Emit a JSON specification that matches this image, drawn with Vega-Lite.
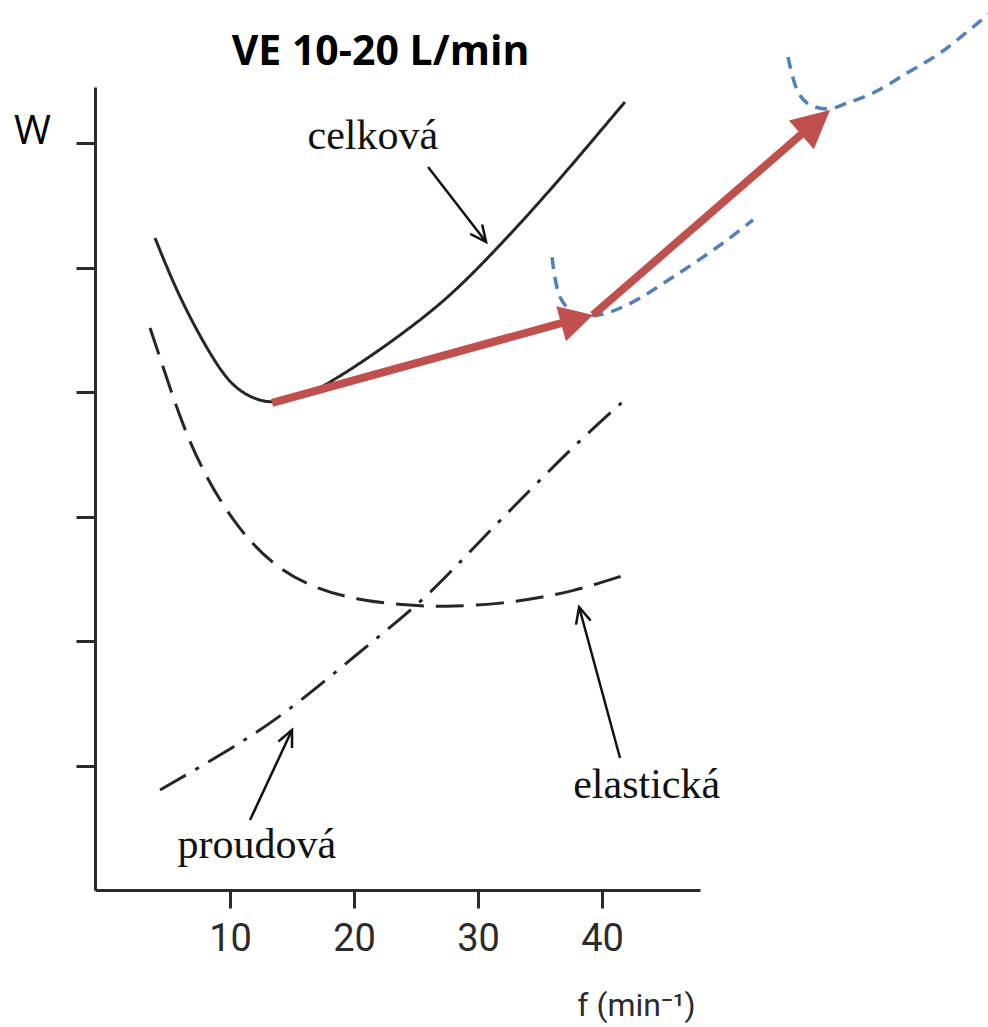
{
  "$schema": "https://vega.github.io/schema/vega-lite/v6.json",
  "width": 605,
  "height": 803,
  "autosize": {"type": "none"},
  "padding": {"left": 95, "top": 87, "right": 288, "bottom": 137},
  "background": "white",
  "view": {"stroke": null},
  "title": {"text": "VE 10-20 L/min", "font": "Open Sans", "fontSize": 41, "fontWeight": "bold", "color": "#000000", "anchor": "middle", "frame": "group", "dx": -17, "offset": 23, "dy": 123, "baseline": "alphabetic"},
  "datasets": {
    "curves": [
      {"series": "celková", "i": 1, "x": 3.95, "y": 5.237},
      {"series": "celková", "i": 2, "x": 5.97, "y": 4.739},
      {"series": "celková", "i": 3, "x": 8.95, "y": 4.201},
      {"series": "celková", "i": 4, "x": 10.56, "y": 4.016},
      {"series": "celková", "i": 5, "x": 12.18, "y": 3.936},
      {"series": "celková", "i": 6, "x": 13.39, "y": 3.912},
      {"series": "celková", "i": 7, "x": 15.65, "y": 3.952},
      {"series": "celková", "i": 8, "x": 18.06, "y": 4.072},
      {"series": "celková", "i": 9, "x": 22.1, "y": 4.337},
      {"series": "celková", "i": 10, "x": 26.13, "y": 4.635},
      {"series": "celková", "i": 11, "x": 29.11, "y": 4.9},
      {"series": "celková", "i": 12, "x": 33.15, "y": 5.325},
      {"series": "celková", "i": 13, "x": 35.81, "y": 5.622},
      {"series": "celková", "i": 14, "x": 38.47, "y": 5.93},
      {"series": "celková", "i": 15, "x": 41.85, "y": 6.33},
      {"series": "elastická", "i": 1, "x": 3.55, "y": 4.514},
      {"series": "elastická", "i": 2, "x": 4.6, "y": 4.201},
      {"series": "elastická", "i": 3, "x": 6.21, "y": 3.719},
      {"series": "elastická", "i": 4, "x": 8.15, "y": 3.293},
      {"series": "elastická", "i": 5, "x": 10.56, "y": 2.916},
      {"series": "elastická", "i": 6, "x": 13.23, "y": 2.627},
      {"series": "elastická", "i": 7, "x": 16.45, "y": 2.434},
      {"series": "elastická", "i": 8, "x": 20.24, "y": 2.329},
      {"series": "elastická", "i": 9, "x": 23.95, "y": 2.289},
      {"series": "elastická", "i": 10, "x": 27.18, "y": 2.273},
      {"series": "elastická", "i": 11, "x": 31.77, "y": 2.297},
      {"series": "elastická", "i": 12, "x": 35.24, "y": 2.353},
      {"series": "elastická", "i": 13, "x": 37.66, "y": 2.402},
      {"series": "elastická", "i": 14, "x": 39.84, "y": 2.466},
      {"series": "elastická", "i": 15, "x": 41.61, "y": 2.522},
      {"series": "proudová", "i": 1, "x": 4.35, "y": 0.803},
      {"series": "proudová", "i": 2, "x": 10.24, "y": 1.141},
      {"series": "proudová", "i": 3, "x": 14.27, "y": 1.406},
      {"series": "proudová", "i": 4, "x": 18.23, "y": 1.727},
      {"series": "proudová", "i": 5, "x": 21.94, "y": 2.032},
      {"series": "proudová", "i": 6, "x": 25.89, "y": 2.353},
      {"series": "proudová", "i": 7, "x": 29.76, "y": 2.763},
      {"series": "proudová", "i": 8, "x": 34.19, "y": 3.213},
      {"series": "proudová", "i": 9, "x": 38.23, "y": 3.615},
      {"series": "proudová", "i": 10, "x": 42.1, "y": 3.96}
    ],
    "blue": [
      {"curve": "a", "i": 1, "x": 35.97, "y": 5.084},
      {"curve": "a", "i": 2, "x": 36.61, "y": 4.763},
      {"curve": "a", "i": 3, "x": 37.66, "y": 4.643},
      {"curve": "a", "i": 4, "x": 39.6, "y": 4.618},
      {"curve": "a", "i": 5, "x": 42.02, "y": 4.699},
      {"curve": "a", "i": 6, "x": 45.73, "y": 4.924},
      {"curve": "a", "i": 7, "x": 49.76, "y": 5.197},
      {"curve": "a", "i": 8, "x": 52.18, "y": 5.382},
      {"curve": "b", "i": 1, "x": 55.0, "y": 6.691},
      {"curve": "b", "i": 2, "x": 55.73, "y": 6.426},
      {"curve": "b", "i": 3, "x": 56.53, "y": 6.321},
      {"curve": "b", "i": 4, "x": 58.15, "y": 6.273},
      {"curve": "b", "i": 5, "x": 59.76, "y": 6.321},
      {"curve": "b", "i": 6, "x": 61.85, "y": 6.402},
      {"curve": "b", "i": 7, "x": 64.6, "y": 6.562},
      {"curve": "b", "i": 8, "x": 67.26, "y": 6.723},
      {"curve": "b", "i": 9, "x": 69.92, "y": 6.932},
      {"curve": "b", "i": 10, "x": 71.29, "y": 7.044}
    ],
    "redshafts": [
      {"id": "r1", "x": 13.39, "y": 3.912, "x2": 37.3, "y2": 4.57},
      {"id": "r2", "x": 39.27, "y": 4.618, "x2": 56.1, "y2": 6.072}
    ],
    "blackshafts": [
      {"id": "celková", "x": 25.97, "y": 5.807, "x2": 30.65, "y2": 5.205},
      {"id": "elastická", "x": 41.45, "y": 1.06, "x2": 38.15, "y2": 2.273},
      {"id": "proudová", "x": 11.61, "y": 0.562, "x2": 15.0, "y2": 1.285}
    ],
    "tips": [
      {"id": "r1", "x": 39.27, "y": 4.618},
      {"id": "r2", "x": 58.39, "y": 6.265},
      {"id": "celková", "x": 30.65, "y": 5.205},
      {"id": "elastická", "x": 38.15, "y": 2.273},
      {"id": "proudová", "x": 15.0, "y": 1.285}
    ],
    "labels": [
      {"text": "celková", "x": 21.52, "y": 5.95},
      {"text": "elastická", "x": 43.6, "y": 0.74},
      {"text": "proudová", "x": 12.16, "y": 0.26}
    ]
  },
  "encoding": {
    "x": {
      "field": "x", "type": "quantitative",
      "scale": {"domain": [-0.89, 47.9], "nice": false, "zero": false},
      "axis": {
        "values": [10, 20, 30, 40], "title": "f (min⁻¹)", "grid": false,
        "domainColor": "#2b2b2b", "domainWidth": 3, "tickColor": "#2b2b2b", "tickWidth": 3, "tickSize": 18,
        "labelFont": "Roboto", "labelFontSize": 38, "labelColor": "#2b2b2b", "labelPadding": 12, "labelFlush": false,
        "titleFont": "Roboto", "titleFontSize": 32, "titleFontWeight": "normal", "titleColor": "#2b2b2b",
        "titleX": 541, "titleY": 125, "titleAlign": "center", "titleBaseline": "alphabetic"
      }
    },
    "y": {
      "field": "y", "type": "quantitative",
      "scale": {"domain": [0, 6.45], "nice": false, "zero": false},
      "axis": {
        "values": [1, 2, 3, 4, 5, 6], "labels": false, "title": "W", "grid": false,
        "domainColor": "#2b2b2b", "domainWidth": 3, "tickColor": "#2b2b2b", "tickWidth": 3, "tickSize": 19,
        "titleFont": "Open Sans", "titleFontSize": 40, "titleFontWeight": "normal", "titleColor": "#000000",
        "titleAngle": 0, "titleX": -63, "titleY": 44, "titleAlign": "center", "titleBaseline": "middle"
      }
    }
  },
  "layer": [
    {
      "data": {"name": "curves"},
      "mark": {"type": "line", "color": "#262626", "strokeWidth": 3, "interpolate": "basis", "clip": false},
      "encoding": {
        "detail": {"field": "series", "type": "nominal"},
        "order": {"field": "i", "type": "quantitative"},
        "strokeDash": {"field": "series", "type": "nominal", "legend": null,
          "scale": {"domain": ["celková", "elastická", "proudová"], "range": [[1, 0], [28, 12], [30, 11, 4, 11]]}}
      }
    },
    {
      "data": {"name": "blue"},
      "mark": {"type": "line", "color": "#4f81bd", "strokeWidth": 3.5, "strokeDash": [12, 8], "interpolate": "catmull-rom", "clip": false},
      "encoding": {
        "detail": {"field": "curve", "type": "nominal"},
        "order": {"field": "i", "type": "quantitative"}
      }
    },
    {
      "data": {"name": "redshafts"},
      "mark": {"type": "rule", "color": "#c0504d", "strokeWidth": 8, "strokeCap": "butt", "clip": false},
      "encoding": {"x2": {"field": "x2"}, "y2": {"field": "y2"}}
    },
    {
      "data": {"name": "tips"},
      "transform": [{"filter": "datum.id === 'r1'"}],
      "mark": {"type": "point", "shape": "M0,0 L-0.55,1 L0.55,1 Z", "filled": true, "opacity": 1, "strokeWidth": 0, "color": "#c0504d", "size": 4356, "angle": 74.7, "clip": false},
      "encoding": {}
    },
    {
      "data": {"name": "tips"},
      "transform": [{"filter": "datum.id === 'r2'"}],
      "mark": {"type": "point", "shape": "M0,0 L-0.5,1 L0.5,1 Z", "filled": true, "opacity": 1, "strokeWidth": 0, "color": "#c0504d", "size": 5776, "angle": 49.1, "clip": false},
      "encoding": {}
    },
    {
      "data": {"name": "blackshafts"},
      "mark": {"type": "rule", "color": "#111111", "strokeWidth": 2.5, "clip": false},
      "encoding": {"x2": {"field": "x2"}, "y2": {"field": "y2"}}
    },
    {
      "data": {"name": "tips"},
      "transform": [{"filter": "datum.id === 'celková'"}],
      "mark": {"type": "point", "shape": "M-0.42,0.9 L0,0 L0.42,0.9", "filled": false, "opacity": 1, "strokeWidth": 2.5, "color": "#111111", "size": 1296, "angle": 142.3, "clip": false},
      "encoding": {}
    },
    {
      "data": {"name": "tips"},
      "transform": [{"filter": "datum.id === 'elastická'"}],
      "mark": {"type": "point", "shape": "M-0.42,0.9 L0,0 L0.42,0.9", "filled": false, "opacity": 1, "strokeWidth": 2.5, "color": "#111111", "size": 1296, "angle": -15.2, "clip": false},
      "encoding": {}
    },
    {
      "data": {"name": "tips"},
      "transform": [{"filter": "datum.id === 'proudová'"}],
      "mark": {"type": "point", "shape": "M-0.42,0.9 L0,0 L0.42,0.9", "filled": false, "opacity": 1, "strokeWidth": 2.5, "color": "#111111", "size": 1296, "angle": 25, "clip": false},
      "encoding": {}
    },
    {
      "data": {"name": "labels"},
      "mark": {"type": "text", "font": "Liberation Serif", "fontSize": 42, "color": "#111111", "align": "center", "baseline": "alphabetic", "clip": false},
      "encoding": {"text": {"field": "text", "type": "nominal"}}
    }
  ]
}
